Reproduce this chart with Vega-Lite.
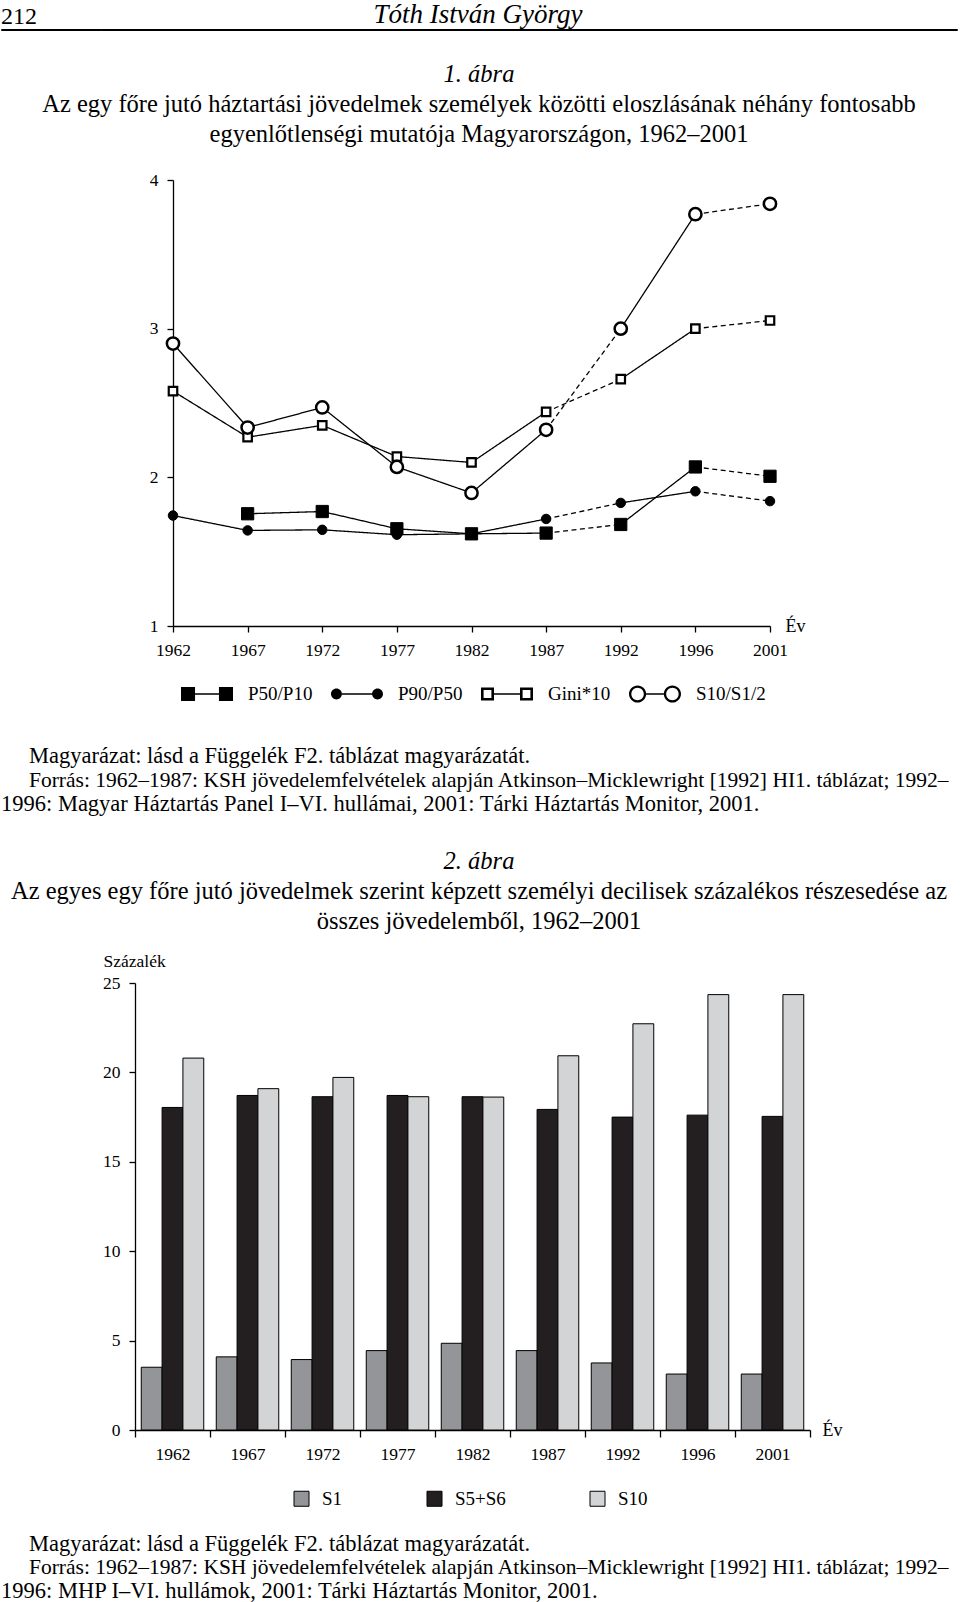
{
  "$schema": "https://vega.github.io/schema/vega-lite/v6.json",
  "background": "white",
  "padding": 0,
  "spacing": 0,
  "center": false,
  "resolve": {"scale": {"color": "independent", "shape": "independent", "fill": "independent", "size": "independent"}, "legend": {"color": "independent", "shape": "independent"}},
  "vconcat": [
    {
      "spacing": 0,
      "bounds": "flush",
      "hconcat": [
        {
          "width": 100,
          "height": 1,
          "data": {"values": []},
          "mark": {"type": "text"},
          "encoding": {"text": {"value": ""}},
          "view": {"stroke": "black", "strokeWidth": 1},
          "title": {"text": "212", "anchor": "start", "frame": "group", "fontSize": 24, "offset": 0}
        },
        {
          "width": 856,
          "height": 1,
          "data": {"values": []},
          "mark": {"type": "text"},
          "encoding": {"text": {"value": ""}},
          "view": {"stroke": "black", "strokeWidth": 1},
          "title": {"text": "Tóth István György", "anchor": "middle", "frame": "group", "fontSize": 27, "fontStyle": "italic", "offset": 0, "dx": -51}
        }
      ]
    },
    {
      "width": 956,
      "height": 140,
      "data": {"values": []},
      "mark": {"type": "text"},
      "encoding": {"text": {"value": ""}},
      "title": {
        "text": "1. ábra",
        "subtitle": ["Az egy főre jutó háztartási jövedelmek személyek közötti eloszlásának néhány fontosabb", "egyenlőtlenségi mutatója Magyarországon, 1962–2001"],
        "fontSize": 24.5,
        "fontStyle": "italic",
        "subtitleFontSize": 24.5,
        "subtitleLineHeight": 30,
        "subtitlePadding": 5.5,
        "anchor": "middle",
        "frame": "group",
        "orient": "top",
        "offset": -116.5
      }
    },
    {
      "spacing": 0,
      "resolve": {"scale": {"shape": "independent"}, "legend": {"shape": "independent"}},
      "hconcat": [
        {
          "width": 148,
          "height": 1,
          "data": {"values": []},
          "mark": {"type": "text"},
          "encoding": {"text": {"value": ""}}
        },
        {
          "width": 597,
          "height": 446,
          "data": {
            "values": [
              {"series": "P50/P10", "year": 1967, "value": 1.755},
              {"series": "P50/P10", "year": 1972, "value": 1.77},
              {"series": "P50/P10", "year": 1977, "value": 1.654},
              {"series": "P50/P10", "year": 1982, "value": 1.62},
              {"series": "P50/P10", "year": 1987, "value": 1.625},
              {"series": "P50/P10", "year": 1992, "value": 1.683},
              {"series": "P50/P10", "year": 1996, "value": 2.07},
              {"series": "P50/P10", "year": 2001, "value": 2.007},
              {"series": "P90/P50", "year": 1962, "value": 1.743},
              {"series": "P90/P50", "year": 1967, "value": 1.643},
              {"series": "P90/P50", "year": 1972, "value": 1.647},
              {"series": "P90/P50", "year": 1977, "value": 1.614},
              {"series": "P90/P50", "year": 1982, "value": 1.62},
              {"series": "P90/P50", "year": 1987, "value": 1.72},
              {"series": "P90/P50", "year": 1992, "value": 1.828},
              {"series": "P90/P50", "year": 1996, "value": 1.906},
              {"series": "P90/P50", "year": 2001, "value": 1.84},
              {"series": "Gini*10", "year": 1962, "value": 2.58},
              {"series": "Gini*10", "year": 1967, "value": 2.27},
              {"series": "Gini*10", "year": 1972, "value": 2.35},
              {"series": "Gini*10", "year": 1977, "value": 2.14},
              {"series": "Gini*10", "year": 1982, "value": 2.1},
              {"series": "Gini*10", "year": 1987, "value": 2.44},
              {"series": "Gini*10", "year": 1992, "value": 2.66},
              {"series": "Gini*10", "year": 1996, "value": 3.0},
              {"series": "Gini*10", "year": 2001, "value": 3.055},
              {"series": "S10/S1/2", "year": 1962, "value": 2.9},
              {"series": "S10/S1/2", "year": 1967, "value": 2.335},
              {"series": "S10/S1/2", "year": 1972, "value": 2.47},
              {"series": "S10/S1/2", "year": 1977, "value": 2.07},
              {"series": "S10/S1/2", "year": 1982, "value": 1.895},
              {"series": "S10/S1/2", "year": 1987, "value": 2.32},
              {"series": "S10/S1/2", "year": 1992, "value": 3.0},
              {"series": "S10/S1/2", "year": 1996, "value": 3.77},
              {"series": "S10/S1/2", "year": 2001, "value": 3.84}
            ]
          },
          "layer": [
            {
              "transform": [
                {"window": [{"op": "lead", "field": "value", "as": "next_value"}, {"op": "lead", "field": "year", "as": "next_year"}], "groupby": ["series"], "sort": [{"field": "year", "order": "ascending"}]},
                {"filter": "datum.next_year != null"}
              ],
              "mark": {"type": "rule", "color": "black", "strokeWidth": 1.3},
              "encoding": {
                "x": {
                  "field": "year",
                  "type": "ordinal",
                  "scale": {"type": "point", "padding": 0},
                  "axis": {"title": "Év", "titleX": 612, "titleY": 0, "titleAlign": "left", "titleBaseline": "middle", "labelAngle": 0, "tickSize": 6, "labelPadding": 9}
                },
                "x2": {"field": "next_year"},
                "y": {
                  "field": "value",
                  "type": "quantitative",
                  "scale": {"domain": [1, 4], "nice": false, "zero": false},
                  "axis": {"title": null, "values": [1, 2, 3, 4], "format": "d", "tickSize": 6, "labelPadding": 9}
                },
                "y2": {"field": "next_value"},
                "strokeDash": {"condition": {"test": "datum.year == 1987 || datum.year == 1996", "value": [5, 3.5]}, "value": [1, 0]}
              }
            },
            {
              "transform": [{"filter": "datum.series == 'P50/P10'"}],
              "mark": {"type": "point", "shape": "square", "filled": true, "fill": "black", "stroke": "black", "strokeWidth": 1, "size": 150, "opacity": 1},
              "encoding": {"x": {"field": "year", "type": "ordinal"}, "y": {"field": "value", "type": "quantitative"}}
            },
            {
              "transform": [{"filter": "datum.series == 'P90/P50'"}],
              "mark": {"type": "point", "shape": "circle", "filled": true, "fill": "black", "stroke": "black", "strokeWidth": 1, "size": 90, "opacity": 1},
              "encoding": {"x": {"field": "year", "type": "ordinal"}, "y": {"field": "value", "type": "quantitative"}}
            },
            {
              "transform": [{"filter": "datum.series == 'Gini*10'"}],
              "mark": {"type": "point", "shape": "square", "filled": false, "fill": "white", "stroke": "black", "strokeWidth": 2.2, "size": 72, "opacity": 1},
              "encoding": {"x": {"field": "year", "type": "ordinal"}, "y": {"field": "value", "type": "quantitative"}}
            },
            {
              "transform": [{"filter": "datum.series == 'S10/S1/2'"}],
              "mark": {"type": "point", "shape": "circle", "filled": false, "fill": "white", "stroke": "black", "strokeWidth": 2.5, "size": 150, "opacity": 1},
              "encoding": {"x": {"field": "year", "type": "ordinal"}, "y": {"field": "value", "type": "quantitative"}}
            },
            {
              "mark": {"type": "point", "filled": true, "color": "black", "size": 0},
              "encoding": {
                "x": {"field": "year", "type": "ordinal"},
                "y": {"field": "value", "type": "quantitative"},
                "shape": {
                  "field": "series",
                  "type": "nominal",
                  "scale": {
                    "domain": ["P50/P10", "P90/P50", "Gini*10", "S10/S1/2"],
                    "range": [
                      "M-1,-0.27H-0.46V0.27H-1Z M0.46,-0.27H1V0.27H0.46Z M-0.46,-0.025H0.46V0.025H-0.46Z",
                      "M-1,0A0.21,0.21 0 1,1 -0.58,0A0.21,0.21 0 1,1 -1,0Z M0.58,0A0.21,0.21 0 1,1 1,0A0.21,0.21 0 1,1 0.58,0Z M-0.58,-0.025H0.58V0.025H-0.58Z",
                      "M-1,-0.25H-0.5V0.25H-1Z M-0.9,-0.15V0.15H-0.6V-0.15Z M0.5,-0.25H1V0.25H0.5Z M0.6,-0.15V0.15H0.9V-0.15Z M-0.5,-0.025H0.5V0.025H-0.5Z",
                      "M-1,0A0.33,0.33 0 1,1 -0.34,0A0.33,0.33 0 1,1 -1,0Z M-0.91,0A0.24,0.24 0 1,0 -0.43,0A0.24,0.24 0 1,0 -0.91,0Z M0.34,0A0.33,0.33 0 1,1 1,0A0.33,0.33 0 1,1 0.34,0Z M0.43,0A0.24,0.24 0 1,0 0.91,0A0.24,0.24 0 1,0 0.43,0Z M-0.34,-0.025H0.34V0.025H-0.34Z"
                    ]
                  },
                  "legend": {"title": null, "orient": "none", "legendX": 8, "legendY": 488, "direction": "horizontal", "symbolSize": 2704, "symbolStrokeWidth": 0, "symbolOpacity": 1, "labelFontSize": 19, "labelOffset": 15, "columnPadding": 18}
                }
              }
            }
          ]
        }
      ]
    },
    {
      "width": 956,
      "height": 64.5,
      "data": {"values": []},
      "mark": {"type": "text"},
      "encoding": {"text": {"value": ""}},
      "title": {"text": "Magyarázat: lásd a Függelék F2. táblázat magyarázatát.", "orient": "top", "anchor": "start", "frame": "group", "offset": -63.5, "dx": 28, "fontSize": 22.5}
    },
    {
      "width": 956,
      "height": 23.5,
      "data": {"values": []},
      "mark": {"type": "text"},
      "encoding": {"text": {"value": ""}},
      "title": {"text": "Forrás: 1962–1987: KSH jövedelemfelvételek alapján Atkinson–Micklewright [1992] HI1. táblázat; 1992–", "orient": "top", "anchor": "start", "frame": "group", "offset": -22.5, "dx": 28, "fontSize": 21.5}
    },
    {
      "width": 956,
      "height": 27.5,
      "data": {"values": []},
      "mark": {"type": "text"},
      "encoding": {"text": {"value": ""}},
      "title": {"text": "1996: Magyar Háztartás Panel I–VI. hullámai, 2001: Tárki Háztartás Monitor, 2001.", "orient": "top", "anchor": "start", "frame": "group", "offset": -22.5, "fontSize": 22.5}
    },
    {
      "width": 956,
      "height": 131,
      "data": {"values": []},
      "mark": {"type": "text"},
      "encoding": {"text": {"value": ""}},
      "title": {
        "text": "2. ábra",
        "subtitle": ["Az egyes egy főre jutó jövedelmek szerint képzett személyi decilisek százalékos részesedése az", "összes jövedelemből, 1962–2001"],
        "fontSize": 24.5,
        "fontStyle": "italic",
        "subtitleFontSize": 24.5,
        "subtitleLineHeight": 30,
        "subtitlePadding": 5.5,
        "anchor": "middle",
        "frame": "group",
        "orient": "top",
        "offset": -113.5
      }
    },
    {
      "spacing": 0,
      "resolve": {"scale": {"color": "independent"}, "legend": {"color": "independent"}},
      "hconcat": [
        {
          "width": 101,
          "height": 1,
          "data": {"values": []},
          "mark": {"type": "text"},
          "encoding": {"text": {"value": ""}}
        },
        {
          "width": 675,
          "height": 447,
          "data": {
            "values": [
              {"year": 1962, "series": "S1", "value": 3.51},
              {"year": 1962, "series": "S5+S6", "value": 18.04},
              {"year": 1962, "series": "S10", "value": 20.8},
              {"year": 1967, "series": "S1", "value": 4.09},
              {"year": 1967, "series": "S5+S6", "value": 18.71},
              {"year": 1967, "series": "S10", "value": 19.09},
              {"year": 1972, "series": "S1", "value": 3.94},
              {"year": 1972, "series": "S5+S6", "value": 18.64},
              {"year": 1972, "series": "S10", "value": 19.72},
              {"year": 1977, "series": "S1", "value": 4.44},
              {"year": 1977, "series": "S5+S6", "value": 18.71},
              {"year": 1977, "series": "S10", "value": 18.64},
              {"year": 1982, "series": "S1", "value": 4.85},
              {"year": 1982, "series": "S5+S6", "value": 18.64},
              {"year": 1982, "series": "S10", "value": 18.62},
              {"year": 1987, "series": "S1", "value": 4.44},
              {"year": 1987, "series": "S5+S6", "value": 17.93},
              {"year": 1987, "series": "S10", "value": 20.93},
              {"year": 1992, "series": "S1", "value": 3.75},
              {"year": 1992, "series": "S5+S6", "value": 17.5},
              {"year": 1992, "series": "S10", "value": 22.72},
              {"year": 1996, "series": "S1", "value": 3.13},
              {"year": 1996, "series": "S5+S6", "value": 17.61},
              {"year": 1996, "series": "S10", "value": 24.35},
              {"year": 2001, "series": "S1", "value": 3.13},
              {"year": 2001, "series": "S5+S6", "value": 17.54},
              {"year": 2001, "series": "S10", "value": 24.35}
            ]
          },
          "mark": {"type": "bar", "stroke": "black", "strokeWidth": 1},
          "encoding": {
            "x": {
              "field": "year",
              "type": "ordinal",
              "scale": {"paddingInner": 0, "paddingOuter": 0},
              "axis": {"title": "Év", "titleX": 687, "titleY": 0, "titleAlign": "left", "titleBaseline": "middle", "labelAngle": 0, "tickBand": "extent", "tickSize": 7, "labelPadding": 8}
            },
            "xOffset": {"field": "series", "type": "nominal", "scale": {"domain": ["S1", "S5+S6", "S10"], "paddingInner": 0, "paddingOuter": 0.3}},
            "y": {
              "field": "value",
              "type": "quantitative",
              "scale": {"domain": [0, 25], "nice": false},
              "axis": {"title": "Százalék", "titleAngle": 0, "titleX": -32, "titleY": -22, "titleAlign": "left", "titleBaseline": "middle", "titleFontSize": 17.5, "values": [0, 5, 10, 15, 20, 25], "tickSize": 6, "labelPadding": 9}
            },
            "color": {
              "field": "series",
              "type": "nominal",
              "scale": {"domain": ["S1", "S5+S6", "S10"], "range": ["#949599", "#231f20", "#d3d4d6"]},
              "legend": {"title": null, "orient": "none", "legendX": 157, "legendY": 506, "direction": "horizontal", "symbolType": "square", "symbolSize": 225, "symbolStrokeColor": "black", "symbolStrokeWidth": 1, "labelFontSize": 19, "labelOffset": 11, "columnPadding": 82}
            }
          }
        }
      ]
    },
    {
      "width": 956,
      "height": 47.5,
      "data": {"values": []},
      "mark": {"type": "text"},
      "encoding": {"text": {"value": ""}},
      "title": {"text": "Magyarázat: lásd a Függelék F2. táblázat magyarázatát.", "orient": "top", "anchor": "start", "frame": "group", "offset": -46.5, "dx": 28, "fontSize": 22.5}
    },
    {
      "width": 956,
      "height": 22.5,
      "data": {"values": []},
      "mark": {"type": "text"},
      "encoding": {"text": {"value": ""}},
      "title": {"text": "Forrás: 1962–1987: KSH jövedelemfelvételek alapján Atkinson–Micklewright [1992] HI1. táblázat; 1992–", "orient": "top", "anchor": "start", "frame": "group", "offset": -21.5, "dx": 28, "fontSize": 21.5}
    },
    {
      "width": 956,
      "height": 24,
      "data": {"values": []},
      "mark": {"type": "text"},
      "encoding": {"text": {"value": ""}},
      "title": {"text": "1996: MHP I–VI. hullámok, 2001: Tárki Háztartás Monitor, 2001.", "orient": "top", "anchor": "start", "frame": "group", "offset": -22.5, "fontSize": 22.5}
    }
  ],
  "config": {
    "font": "Liberation Serif",
    "view": {"stroke": null},
    "axis": {"labelFont": "Liberation Serif", "labelFontSize": 17.5, "labelColor": "black", "domainColor": "black", "tickColor": "black", "domainWidth": 1.3, "tickWidth": 1.3, "grid": false, "titleFont": "Liberation Serif", "titleFontSize": 18, "titleFontWeight": "normal", "titleColor": "black"},
    "legend": {"labelFont": "Liberation Serif", "labelFontSize": 19, "labelColor": "black"},
    "title": {"font": "Liberation Serif", "subtitleFont": "Liberation Serif", "fontWeight": "normal", "color": "black", "subtitleColor": "black"}
  }
}
